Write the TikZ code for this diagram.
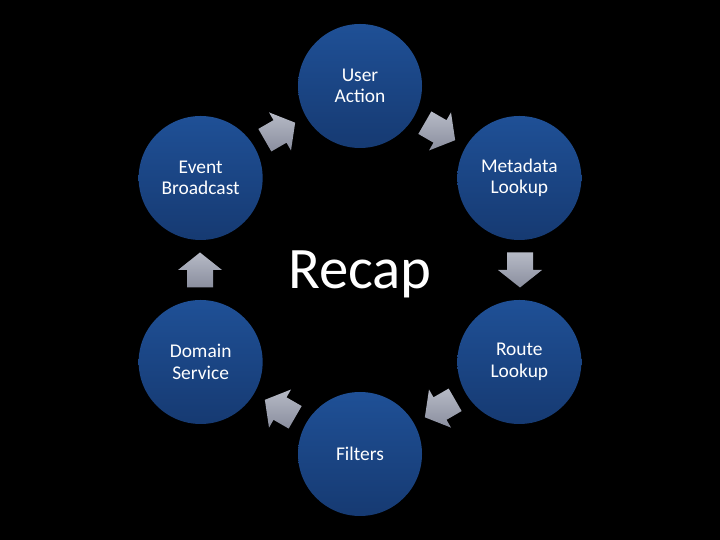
\documentclass[tikz,border=0pt]{standalone}
\usepackage{fontspec}
\setmainfont{Carlito}
\usetikzlibrary{calc}
\definecolor{bubtop}{HTML}{1F5096}
\definecolor{bubbot}{HTML}{163A72}
\definecolor{arrtop}{HTML}{B6BAC6}
\definecolor{arrbot}{HTML}{8A8E9E}
\begin{document}
\begin{tikzpicture}[x=1bp,y=1bp]
\tikzset{
  bub/.style={circle, minimum size=124bp, inner sep=0pt, top color=bubtop, bottom color=bubbot, draw=none,
    text=white, font=\fontsize{19.5}{21.5}\selectfont, align=center},
  blockarrow/.style={top color=arrtop, bottom color=arrbot, draw=none}
}
\useasboundingbox[fill=black] (0,0) rectangle (720,540);
\coordinate (c) at (360,270);
\node[bub] (ua) at ($(c)+(90:184)$) {User\\Action};
\node[bub] (ml) at ($(c)+(30:184)$) {Metadata\\Lookup};
\node[bub] (rl) at ($(c)+(-30:184)$) {Route\\Lookup};
\node[bub] (fi) at ($(c)+(-90:184)$) {Filters};
\node[bub] (ds) at ($(c)+(-150:184)$) {Domain\\Service};
\node[bub] (eb) at ($(c)+(150:184)$) {Event\\Broadcast};
\node[text=white, font=\fontsize{59}{61}\selectfont] (t) at ($(c)+(0,-4)$) {Recap};
\foreach \a in {120,60,0,-60,-120,180}{
  \begin{scope}[shift={($(c)+(\a:160)$)}, rotate=\a-90]
    \fill[blockarrow] (-17.5,-13) -- (0,-13) -- (0,-22) -- (17.5,0) -- (0,22) -- (0,13) -- (-17.5,13) -- cycle;
  \end{scope}
}
\end{tikzpicture}
\end{document}
